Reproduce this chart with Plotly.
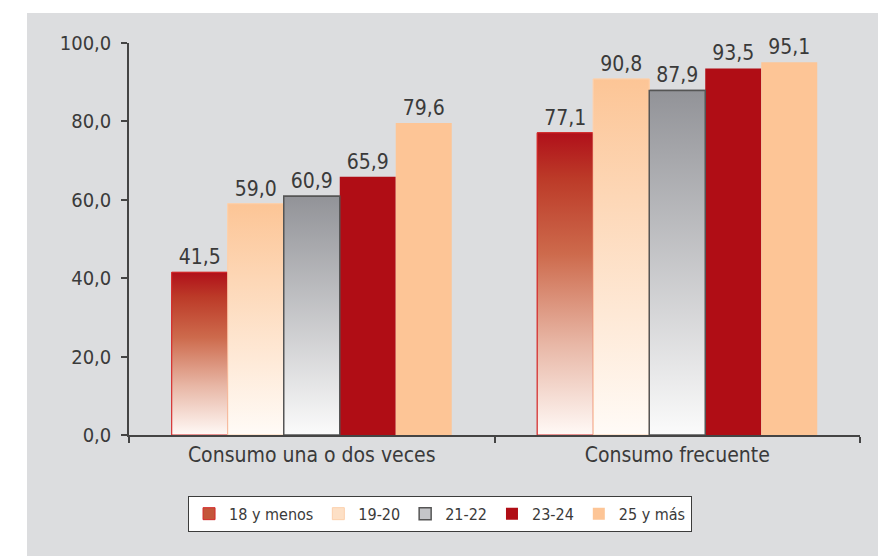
import plotly.graph_objects as go

categories = ["Consumo una o dos veces", "Consumo frecuente"]
series_names = ["18 y menos", "19-20", "21-22", "23-24", "25 y más"]
v_18_menos = [41.5, 77.1]
v_19_20 = [59.0, 90.8]
v_21_22 = [60.9, 87.9]
v_23_24 = [65.9, 93.5]
v_25_mas = [79.6, 95.1]
y_ticks = [0, 20, 40, 60, 80, 100]

values = [v_18_menos, v_19_20, v_21_22, v_23_24, v_25_mas]

FONT = "DejaVu Sans Condensed, sans-serif"
BARGAP = 0.234
styles = [
    dict(solid="#c4553a", line="#d42a2a", lw=1,
         grad=[[0, "#fff9f6"], [0.3, "#e8b7a6"], [0.6, "#cd6a4c"], [0.85, "#bc3a28"], [1, "#b0101a"]]),
    dict(solid="#fde0c6", line="#fcd0ac", lw=1,
         grad=[[0, "#fffbf7"], [1, "#fcc596"]]),
    dict(solid="#c4c5c8", line="#555555", lw=1.5,
         grad=[[0, "#fbfbfb"], [1, "#929398"]]),
    dict(solid="#b00d15", line="#2e8b57", lw=0, grad=None),
    dict(solid="#fdc596", line="#fdc596", lw=0, grad=None),
]

fig = go.Figure()

n = len(series_names)
group_w = 1 - BARGAP
bar_w = group_w / n

for i, (name, vals, st) in enumerate(zip(series_names, values, styles)):
    fig.add_trace(go.Bar(
        name=name, x=categories, y=vals,
        marker=dict(color=st["solid"], line=dict(color=st["line"], width=st["lw"])),
        texttemplate="%{y:.1f}", textposition="outside",
        textfont=dict(size=21, color="#3a3a3a", family=FONT),
        cliponaxis=False, hoverinfo="skip",
    ))

# gradient overlays for the gradient-filled series
for i, (vals, st) in enumerate(zip(values, styles)):
    if st["grad"] is None:
        continue
    for c, v in enumerate(vals):
        center = c - group_w / 2 + (i + 0.5) * bar_w
        l, r = center - bar_w / 2, center + bar_w / 2
        fig.add_trace(go.Scatter(
            x=[l, r, r, l, l], y=[0, 0, v, v, 0],
            xaxis="x2", mode="lines", fill="toself",
            fillgradient=dict(type="vertical", colorscale=st["grad"], start=0, stop=v),
            line=dict(color=st["line"], width=st["lw"]),
            showlegend=False, hoverinfo="skip",
        ))

# gray panel background
fig.add_shape(type="rect", xref="paper", yref="paper",
              x0=-0.1395, x1=1.06, y0=-0.35, y1=1.0765,
              fillcolor="#dcdddf", line=dict(width=0), layer="below")

fig.update_layout(
    width=878, height=548,
    margin=dict(l=121, r=26, t=35, b=121),
    paper_bgcolor="white", plot_bgcolor="rgba(0,0,0,0)",
    separators=",.",
    barmode="group", bargap=BARGAP, bargroupgap=0,
    font=dict(family=FONT, color="#3a3a3a"),
    showlegend=True,
    legend=dict(orientation="h", x=0.4255, xanchor="center", y=-0.155, yanchor="top",
                bgcolor="white", bordercolor="#3c3c3c", borderwidth=1,
                font=dict(size=16, color="#3a3a3a", family=FONT), traceorder="normal"),
    xaxis=dict(type="category", range=[-0.5, 1.5], tickson="boundaries",
               ticks="outside", ticklen=6, tickcolor="#444", tickwidth=1.5,
               showline=True, linecolor="#444", linewidth=1.5,
               showgrid=False, tickfont=dict(size=21, color="#3a3a3a", family=FONT)),
    xaxis2=dict(overlaying="x", range=[-0.5, 1.5], visible=False),
    yaxis=dict(range=[0, 100], tickvals=y_ticks, tickformat=".1f",
               ticks="outside", ticklen=6, tickcolor="#444", tickwidth=1.5,
               showline=True, linecolor="#444", linewidth=1.5,
               showgrid=False, zeroline=False, ticklabelstandoff=6,
               tickfont=dict(size=20, color="#3a3a3a", family=FONT)),
)

fig.write_html("out.html")
